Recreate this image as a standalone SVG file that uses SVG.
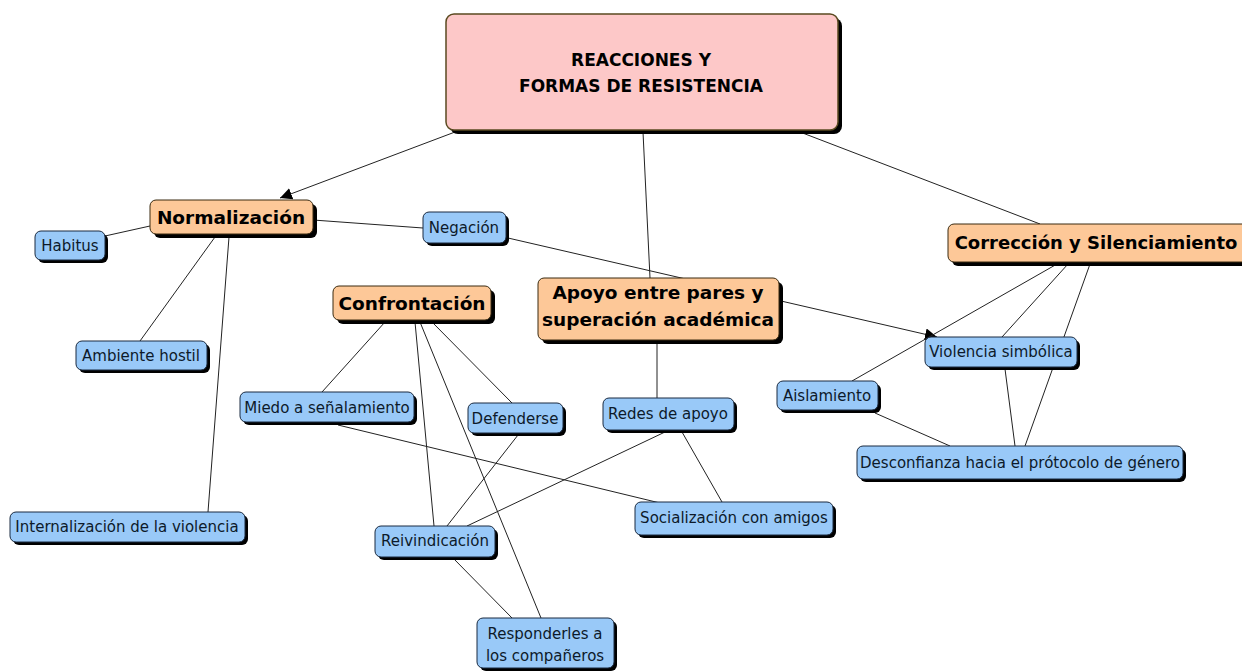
<svg xmlns="http://www.w3.org/2000/svg" width="1242" height="671" viewBox="0 0 1242 671">
<defs>
<style>
.sh{fill:#000}
.root{fill:#fdc8c8;stroke:#5a4a20;stroke-width:1.5}
.or{fill:#fdc898;stroke:#3a2a10;stroke-width:1}
.bl{fill:#99c9f8;stroke:#1a2a40;stroke-width:1}
.tb{font-family:"DejaVu Sans",sans-serif;font-weight:bold;fill:#000;text-anchor:middle}
.tr{font-family:"DejaVu Sans",sans-serif;font-size:15px;fill:#0d1a2a;text-anchor:middle}
.e{stroke:#222;stroke-width:1;fill:none}
</style>
<marker id="ah" viewBox="0 0 10 10" refX="10" refY="5" markerWidth="12" markerHeight="12" markerUnits="userSpaceOnUse" orient="auto">
<path d="M0,0 L10,5 L0,10 z" fill="#000"/>
</marker>
</defs>
<rect width="1242" height="671" fill="#fff"/>
<g id="connectors">
<line class="e" x1="455" y1="132" x2="280" y2="198" marker-end="url(#ah)"/>
<line class="e" x1="643" y1="132" x2="650" y2="278"/>
<line class="e" x1="800" y1="132" x2="1040" y2="224"/>
<line class="e" x1="150" y1="226" x2="105" y2="236"/>
<line class="e" x1="313" y1="220" x2="423" y2="228"/>
<line class="e" x1="215" y1="237" x2="140" y2="341"/>
<line class="e" x1="229" y1="237" x2="208" y2="512"/>
<line class="e" x1="508" y1="238" x2="937" y2="337" marker-end="url(#ah)"/>
<line class="e" x1="385" y1="322" x2="322" y2="392"/>
<line class="e" x1="432" y1="322" x2="512" y2="403"/>
<line class="e" x1="415" y1="322" x2="434" y2="526"/>
<line class="e" x1="420" y1="322" x2="541" y2="618"/>
<line class="e" x1="338" y1="425" x2="660" y2="503"/>
<line class="e" x1="518" y1="435" x2="447" y2="526"/>
<line class="e" x1="665" y1="432" x2="467" y2="526"/>
<line class="e" x1="682" y1="432" x2="722" y2="502"/>
<line class="e" x1="657" y1="342" x2="657" y2="398"/>
<line class="e" x1="453" y1="558" x2="512" y2="618"/>
<line class="e" x1="1057" y1="264" x2="852" y2="381"/>
<line class="e" x1="1068" y1="264" x2="1002" y2="337"/>
<line class="e" x1="1090" y1="264" x2="1025" y2="446"/>
<line class="e" x1="1005" y1="369" x2="1015" y2="446"/>
<line class="e" x1="875" y1="413" x2="950" y2="446"/>
</g>
<g id="root">
<rect class="sh" x="450" y="18" width="392" height="116" rx="8"/>
<rect class="root" x="446" y="14" width="392" height="116" rx="8"/>
<text class="tb" x="641" y="66" font-size="17">REACCIONES Y</text>
<text class="tb" x="641" y="92" font-size="17">FORMAS DE RESISTENCIA</text>
</g>
<g id="normalizacion">
<rect class="sh" x="154" y="204" width="163" height="34" rx="6"/>
<rect class="or" x="150" y="200" width="163" height="34" rx="6"/>
<text class="tb" x="231" y="224" font-size="18.5">Normalización</text>
</g>
<g id="correccion">
<rect class="sh" x="952" y="228" width="300" height="38" rx="6"/>
<rect class="or" x="948" y="224" width="300" height="38" rx="6"/>
<text class="tb" x="1096" y="249" font-size="18">Corrección y Silenciamiento</text>
</g>
<g id="confrontacion">
<rect class="sh" x="337" y="290" width="158" height="34" rx="6"/>
<rect class="or" x="333" y="286" width="158" height="34" rx="6"/>
<text class="tb" x="412" y="310" font-size="18.5">Confrontación</text>
</g>
<g id="apoyo">
<rect class="sh" x="542" y="282" width="241" height="62" rx="6"/>
<rect class="or" x="538" y="278" width="241" height="62" rx="6"/>
<text class="tb" x="658" y="299" font-size="18.5">Apoyo entre pares y</text>
<text class="tb" x="658" y="326" font-size="18.5">superación académica</text>
</g>
<g id="habitus">
<rect class="sh" x="38" y="234" width="70" height="29" rx="6"/>
<rect class="bl" x="35" y="231" width="70" height="29" rx="6"/>
<text class="tr" x="70" y="251">Habitus</text>
</g>
<g id="negacion">
<rect class="sh" x="426" y="215" width="83" height="31" rx="6"/>
<rect class="bl" x="423" y="212" width="83" height="31" rx="6"/>
<text class="tr" x="464" y="233">Negación</text>
</g>
<g id="ambiente">
<rect class="sh" x="79" y="344" width="131" height="29" rx="6"/>
<rect class="bl" x="76" y="341" width="131" height="29" rx="6"/>
<text class="tr" x="141" y="361">Ambiente hostil</text>
</g>
<g id="violencia">
<rect class="sh" x="928" y="340" width="152" height="30" rx="6"/>
<rect class="bl" x="925" y="337" width="152" height="30" rx="6"/>
<text class="tr" x="1001" y="357">Violencia simbólica</text>
</g>
<g id="miedo">
<rect class="sh" x="243" y="395" width="174" height="30" rx="6"/>
<rect class="bl" x="240" y="392" width="174" height="30" rx="6"/>
<text class="tr" x="327" y="413">Miedo a señalamiento</text>
</g>
<g id="defenderse">
<rect class="sh" x="471" y="406" width="95" height="30" rx="6"/>
<rect class="bl" x="468" y="403" width="95" height="30" rx="6"/>
<text class="tr" x="515" y="424">Defenderse</text>
</g>
<g id="redes">
<rect class="sh" x="606" y="401" width="131" height="32" rx="6"/>
<rect class="bl" x="603" y="398" width="131" height="32" rx="6"/>
<text class="tr" x="668" y="419">Redes de apoyo</text>
</g>
<g id="aislamiento">
<rect class="sh" x="780" y="384" width="101" height="29" rx="6"/>
<rect class="bl" x="777" y="381" width="101" height="29" rx="6"/>
<text class="tr" x="827" y="401">Aislamiento</text>
</g>
<g id="desconfianza">
<rect class="sh" x="860" y="449" width="326" height="33" rx="6"/>
<rect class="bl" x="857" y="446" width="326" height="33" rx="6"/>
<text class="tr" x="1020" y="468">Desconfianza hacia el prótocolo de género</text>
</g>
<g id="internalizacion">
<rect class="sh" x="13" y="515" width="235" height="30" rx="6"/>
<rect class="bl" x="10" y="512" width="235" height="30" rx="6"/>
<text class="tr" x="127" y="532">Internalización de la violencia</text>
</g>
<g id="reivindicacion">
<rect class="sh" x="378" y="529" width="120" height="31" rx="6"/>
<rect class="bl" x="375" y="526" width="120" height="31" rx="6"/>
<text class="tr" x="435" y="546">Reivindicación</text>
</g>
<g id="socializacion">
<rect class="sh" x="638" y="505" width="198" height="33" rx="6"/>
<rect class="bl" x="635" y="502" width="198" height="33" rx="6"/>
<text class="tr" x="734" y="523">Socialización con amigos</text>
</g>
<g id="responderles">
<rect class="sh" x="480" y="621" width="137" height="50" rx="6"/>
<rect class="bl" x="477" y="618" width="137" height="50" rx="6"/>
<text class="tr" x="545" y="639">Responderles a</text>
<text class="tr" x="545" y="661">los compañeros</text>
</g>
</svg>
